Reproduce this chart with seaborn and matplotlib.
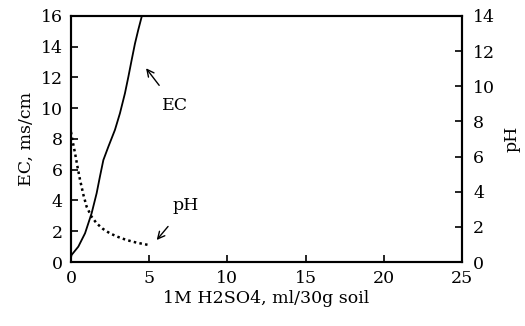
import matplotlib
matplotlib.use("Agg")
import matplotlib.pyplot as plt
import seaborn as sns
import pandas as pd

# EC (ms/cm) against added 1M H2SO4 (ml per 30 g soil)
ec_acid = [0.0, 0.04, 0.47, 0.9, 1.11, 1.32, 1.64, 1.85, 2.07, 2.39, 2.81,
           3.13, 3.45, 3.67, 3.88, 4.09, 4.3, 4.52, 4.7]
ec_values = [0.3, 0.46, 1.0, 1.87, 2.52, 3.17, 4.47, 5.55, 6.63, 7.5, 8.59,
             9.67, 10.97, 12.05, 13.14, 14.2, 15.09, 15.95, 16.8]

# pH against added acid
ph_acid = [0.0, 0.1, 0.26, 0.42, 0.58, 0.8, 1.0, 1.3, 1.64, 2.05, 2.49,
           3.0, 3.56, 4.2, 4.95]
ph_values = [7.4, 6.9, 6.19, 5.4, 4.67, 3.8, 3.15, 2.6, 2.2, 1.88, 1.63,
             1.43, 1.25, 1.1, 0.97]

x_ticks = [0, 5, 10, 15, 20, 25]
ec_ticks = [0, 2, 4, 6, 8, 10, 12, 14, 16]
ph_ticks = [0, 2, 4, 6, 8, 10, 12, 14]

sns.set_theme(style="ticks")
plt.rcParams["font.family"] = ["DejaVu Serif"]
plt.rcParams["axes.linewidth"] = 1.5
plt.rcParams["text.color"] = "black"
plt.rcParams["axes.labelcolor"] = "black"
plt.rcParams["axes.edgecolor"] = "black"

ec_df = pd.DataFrame({"acid": ec_acid, "EC": ec_values})
ph_df = pd.DataFrame({"acid": ph_acid, "pH": ph_values})

fig = plt.figure(figsize=(5.25, 3.26), dpi=100)
ax = fig.add_axes([0.1352, 0.1963, 0.7448, 0.7547])

sns.lineplot(data=ec_df, x="acid", y="EC", ax=ax, color="black", lw=1.3,
             estimator=None, sort=False)
ax.set_xlim(0, 25)
ax.set_ylim(0, 16)
ax.set_xticks(x_ticks)
ax.set_yticks(ec_ticks)
ax.tick_params(direction="in", length=5, width=1.2, labelsize=12.5,
               colors="black", pad=6)
ax.set_xlabel("1M H2SO4, ml/30g soil", fontsize=12.5, labelpad=2)
ax.set_ylabel("EC, ms/cm", fontsize=12.5, labelpad=4)

ax2 = ax.twinx()
sns.lineplot(data=ph_df, x="acid", y="pH", ax=ax2, color="black", lw=1.8,
             linestyle=(0, (1, 1.3)), estimator=None, sort=False)
ax2.set_ylim(0, 14)
ax2.set_yticks(ph_ticks)
ax2.tick_params(direction="in", length=5, width=1.2, labelsize=12.5,
                colors="black", pad=8)
ax2.set_ylabel("pH", fontsize=12.5, labelpad=6)
for side in ax2.spines.values():
    side.set_linewidth(1.5)

ax.annotate("EC", xy=(4.8, 12.6), xytext=(6.65, 10.15), fontsize=12.5,
            ha="center", va="center", color="black",
            arrowprops=dict(arrowstyle="->", color="black", lw=1,
                            shrinkA=8, shrinkB=0))
ax.annotate("pH", xy=(5.48, 1.43), xytext=(7.35, 3.7), fontsize=12.5,
            ha="center", va="center", color="black",
            arrowprops=dict(arrowstyle="->", color="black", lw=1,
                            shrinkA=9, shrinkB=0))

fig.savefig("out.png", dpi=100, facecolor="white")
